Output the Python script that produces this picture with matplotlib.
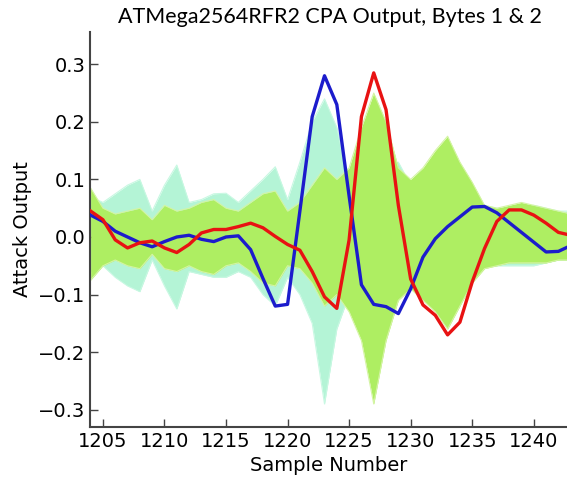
import matplotlib

matplotlib.use('Agg')
import matplotlib.pyplot as plt
import numpy as np

samples = np.arange(1204, 1244)

# correct-key traces
byte1 = [0.038, 0.027, 0.010, 0.000, -0.010, -0.017, -0.008, 0.000, 0.003, -0.004,
         -0.008, 0.000, 0.002, -0.022, -0.072, -0.120, -0.117, 0.045, 0.209, 0.280,
         0.230, 0.071, -0.083, -0.117, -0.121, -0.133, -0.090, -0.035, -0.003, 0.018,
         0.035, 0.052, 0.053, 0.042, 0.025, 0.008, -0.009, -0.026, -0.025, -0.015]
byte2 = [0.045, 0.030, -0.005, -0.019, -0.010, -0.007, -0.019, -0.027, -0.013, 0.007,
         0.013, 0.013, 0.018, 0.024, 0.016, 0.001, -0.013, -0.023, -0.060, -0.104,
         -0.124, -0.005, 0.209, 0.285, 0.221, 0.055, -0.073, -0.118, -0.136, -0.170,
         -0.148, -0.078, -0.020, 0.027, 0.047, 0.047, 0.038, 0.024, 0.008, 0.003]

# spread of the wrong-guess traces (upper / lower edge) for each byte
byte1_hi = [0.070, 0.060, 0.075, 0.090, 0.100, 0.045, 0.090, 0.125, 0.060, 0.065,
            0.075, 0.076, 0.060, 0.080, 0.100, 0.122, 0.065, 0.130, 0.200, 0.240,
            0.190, 0.090, 0.060, 0.100, 0.120, 0.130, 0.090, 0.070, 0.060, 0.050,
            0.045, 0.050, 0.055, 0.050, 0.045, 0.050, 0.055, 0.050, 0.045, 0.045]
byte1_lo = [-0.060, -0.050, -0.070, -0.085, -0.095, -0.040, -0.085, -0.125, -0.060, -0.065,
            -0.070, -0.070, -0.060, -0.070, -0.100, -0.120, -0.070, -0.100, -0.150, -0.290,
            -0.160, -0.100, -0.080, -0.100, -0.090, -0.080, -0.070, -0.060, -0.050, -0.050,
            -0.045, -0.045, -0.050, -0.050, -0.050, -0.050, -0.050, -0.045, -0.040, -0.040]
byte2_hi = [0.085, 0.050, 0.040, 0.045, 0.050, 0.030, 0.055, 0.045, 0.050, 0.060,
            0.065, 0.050, 0.045, 0.060, 0.075, 0.080, 0.045, 0.060, 0.090, 0.120,
            0.100, 0.120, 0.190, 0.250, 0.200, 0.120, 0.100, 0.120, 0.150, 0.175,
            0.130, 0.095, 0.055, 0.050, 0.055, 0.060, 0.055, 0.050, 0.045, 0.040]
byte2_lo = [-0.075, -0.050, -0.040, -0.050, -0.055, -0.030, -0.055, -0.060, -0.050, -0.060,
            -0.065, -0.050, -0.045, -0.060, -0.080, -0.085, -0.050, -0.055, -0.080, -0.120,
            -0.100, -0.130, -0.180, -0.290, -0.180, -0.110, -0.090, -0.110, -0.130, -0.160,
            -0.120, -0.080, -0.055, -0.050, -0.045, -0.045, -0.045, -0.045, -0.040, -0.040]

fig = plt.figure(figsize=(5.67, 4.83), dpi=100)
ax = fig.add_axes([90 / 567, 1 - 427 / 483, 1 - 90 / 567, (427 - 32) / 483])

ax.fill_between(samples, byte1_lo, byte1_hi, color='#b4f4d6', lw=0, zorder=1)
ax.plot(samples, byte1_hi, color='#c8f8e2', lw=0.8, zorder=1)
ax.plot(samples, byte1_lo, color='#c8f8e2', lw=0.8, zorder=1)
ax.fill_between(samples, byte2_lo, byte2_hi, color='#aeee62', lw=0, zorder=2)
ax.plot(samples, byte2_hi, color='#d4f4a4', lw=0.8, zorder=2)
ax.plot(samples, byte2_lo, color='#d4f4a4', lw=0.8, zorder=2)

ax.plot(samples, byte1, color='#1c1ccc', lw=2.4, zorder=3)
ax.plot(samples, byte2, color='#e81212', lw=2.4, zorder=4)

ax.set_xlim(1203.95, 1242.7)
ax.set_ylim(-0.33, 0.356)
ax.set_xticks(range(1205, 1245, 5))
ax.set_yticks([-0.3, -0.2, -0.1, 0.0, 0.1, 0.2, 0.3])
ax.tick_params(direction='in', length=6, width=1, labelsize=14, color='#444444')
ax.spines['top'].set_visible(False)
ax.spines['right'].set_visible(False)
for side in ('left', 'bottom'):
    ax.spines[side].set_color('#444444')
    ax.spines[side].set_linewidth(1.5)

ax.set_xlabel('Sample Number', fontsize=14)
ax.set_ylabel('Attack Output', fontsize=14)

fig.text(118 / 567, 1 - 23 / 483, 'ATMega2564RFR2 CPA Output, Bytes 1 & 2',
         family='Lato', fontsize=15.5, ha='left', va='baseline')

fig.savefig('out.png', dpi=100)
